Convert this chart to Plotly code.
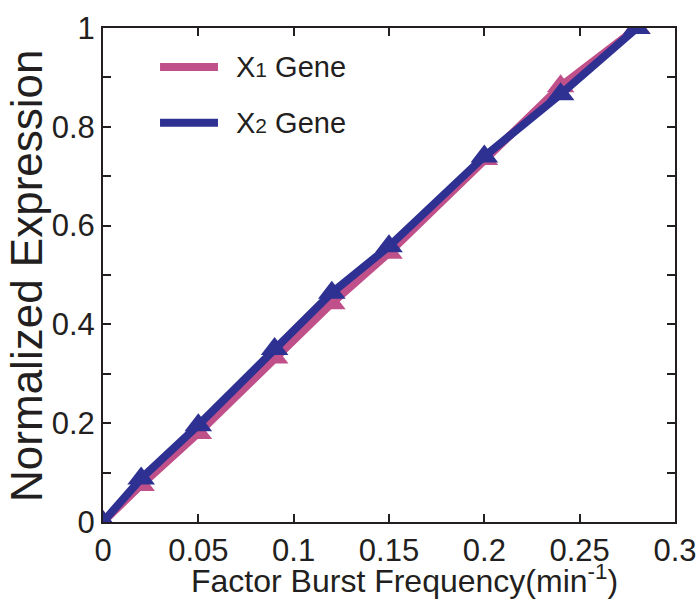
import plotly.graph_objects as go

# Burst frequency (min^-1) and normalized expression of the two genes
freq = [0, 0.02, 0.05, 0.09, 0.12, 0.15, 0.20, 0.24, 0.28]
x1_expr = [0, 0.075, 0.18, 0.333, 0.443, 0.545, 0.735, 0.882, 1.0]
x2_expr = [0, 0.088, 0.196, 0.350, 0.464, 0.558, 0.740, 0.866, 1.0]

y_ticks = [0, 0.1, 0.2, 0.3, 0.4, 0.5, 0.6, 0.7, 0.8, 0.9, 1.0]
y_labels = ["0", "", "0.2", "", "0.4", "", "0.6", "", "0.8", "", "1"]
x_ticks = [0, 0.05, 0.1, 0.15, 0.2, 0.25, 0.3]
x_labels = ["0", "0.05", "0.1", "0.15", "0.2", "0.25", "0.3"]

PINK = "#C05089"
BLUE = "#2E3192"
INK = "#231F20"
FONT = "Liberation Sans, Arial, sans-serif"

fig = go.Figure()
for ys, col, name in [(x1_expr, PINK, "X1 Gene"), (x2_expr, BLUE, "X2 Gene")]:
    fig.add_trace(go.Scatter(
        x=freq, y=ys, mode="lines+markers", name=name,
        line=dict(color=col, width=8),
        marker=dict(symbol="triangle-up", size=24, color=col),
        showlegend=False,
    ))

# Legend drawn as line samples with labels
legend_items = [
    (0.921, PINK, "X<span style='font-size:21px'>1</span> Gene"),
    (0.808, BLUE, "X<span style='font-size:21px'>2</span> Gene"),
]
for yy, col, name in legend_items:
    fig.add_shape(type="line", xref="paper", yref="paper",
                  x0=0.0997, x1=0.201, y0=yy, y1=yy,
                  line=dict(color=col, width=8))
    fig.add_annotation(xref="paper", yref="paper", x=0.229, y=yy,
                       text=name, showarrow=False, xanchor="left", yanchor="middle",
                       font=dict(family=FONT, size=29, color=INK))

# Axis titles
fig.add_annotation(xref="paper", yref="paper", x=0.527, y=-0.116,
                   text="Factor Burst Frequency(min<sup>-1</sup>)", showarrow=False,
                   xanchor="center", yanchor="middle",
                   font=dict(family=FONT, size=32, color=INK))
fig.add_annotation(xref="paper", yref="paper", x=-0.133, y=0.498,
                   text="Normalized Expression", showarrow=False, textangle=-90,
                   xanchor="center", yanchor="middle",
                   font=dict(family=FONT, size=44, color=INK))

axis_common = dict(
    showline=True, linecolor=INK, linewidth=2, mirror="ticks",
    ticks="inside", ticklen=8, tickwidth=1.5, tickcolor=INK,
    showgrid=False, zeroline=False, automargin=False,
    tickfont=dict(family=FONT, size=31, color=INK),
)

fig.update_xaxes(range=[0, 0.3], tickvals=x_ticks, ticktext=x_labels, **axis_common)
fig.update_yaxes(range=[0, 1], tickvals=y_ticks, ticktext=y_labels, **axis_common)

fig.update_layout(
    width=699, height=601,
    margin=dict(l=103, r=24, t=28, b=79),
    paper_bgcolor="white", plot_bgcolor="white",
)

fig.write_html("out.html")
